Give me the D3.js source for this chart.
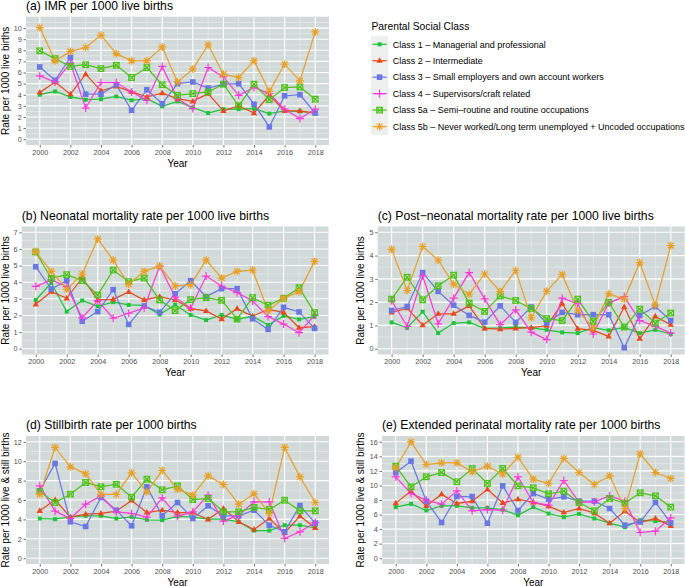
<!DOCTYPE html>
<html>
<head>
<meta charset="utf-8">
<script src="https://cdn.jsdelivr.net/npm/d3@7"></script>
<style>
  body { margin: 0; background: #fff; }
  text { font-family: "Liberation Sans", Arial, Helvetica, sans-serif; }
</style>
</head>
<body>
<svg id="chart" width="685" height="586"></svg>
<script>
// ---- data ----
const years = [2000, 2001, 2002, 2003, 2004, 2005, 2006, 2007, 2008, 2009,
               2010, 2011, 2012, 2013, 2014, 2015, 2016, 2017, 2018];

const classNames = [
  "Class 1 \u2013 Managerial and professional",
  "Class 2 \u2013 Intermediate",
  "Class 3 \u2013 Small employers and own account workers",
  "Class 4 \u2013 Supervisors/craft related",
  "Class 5a \u2013 Semi\u2013routine and routine occupations",
  "Class 5b \u2013 Never worked/Long term unemployed + Uncoded occupations"
];
const classColors = ["#1fc43a", "#e84a1e", "#6a78e6", "#ff3ad8", "#4fc21c", "#e9a12a"];
const classShapes = ["smallsquare", "triangle", "square", "plus", "squarex", "asterisk"];

// one row per class, one value per year
const imr = [
  [4.0, 4.3, 3.8, 3.55, 3.6, 3.85, 3.5, 3.65, 2.95, 3.4, 2.85, 2.35, 2.7, 2.7, 2.75, 2.3, 2.55, 2.5, 2.35],
  [4.2, 5.15, 4.05, 5.85, 4.35, 4.75, 4.25, 3.8, 4.15, 3.65, 3.4, 4.1, 2.55, 3.0, 2.35, 3.95, 2.55, 2.55, 2.35],
  [6.5, 5.3, 7.35, 4.05, 4.05, 4.9, 2.6, 4.45, 3.2, 5.0, 5.15, 4.6, 4.95, 5.0, 3.15, 1.1, 3.9, 4.0, 2.35],
  [5.7, 5.15, 6.85, 2.8, 5.1, 5.1, 4.25, 3.5, 6.55, 3.65, 2.75, 6.45, 5.6, 3.95, 4.65, 4.1, 2.7, 1.85, 2.7],
  [7.95, 7.25, 6.55, 6.7, 6.35, 6.65, 5.55, 6.45, 4.9, 3.95, 4.1, 4.25, 4.95, 3.0, 4.95, 3.55, 4.65, 4.7, 3.6],
  [10.05, 7.05, 7.9, 8.25, 9.35, 7.7, 7.05, 7.05, 8.3, 5.15, 6.3, 8.5, 5.85, 5.55, 7.05, 4.3, 6.75, 5.25, 9.65]
];
const neonatal = [
  [2.93, 3.95, 2.23, 2.9, 2.55, 2.8, 2.63, 2.6, 2.05, 2.65, 2.03, 1.72, 2.03, 1.76, 1.95, 1.42, 1.97, 1.76, 1.93],
  [2.67, 3.43, 3.03, 4.27, 2.93, 2.97, 3.41, 2.93, 3.13, 2.93, 2.41, 2.27, 1.78, 2.41, 1.95, 2.37, 2.19, 1.26, 1.32],
  [4.93, 3.59, 4.09, 1.65, 2.23, 3.55, 1.46, 2.57, 2.19, 3.3, 4.09, 3.13, 3.61, 3.61, 1.8, 1.16, 2.49, 2.21, 1.22],
  [3.75, 4.13, 3.73, 1.85, 2.89, 1.83, 2.13, 2.45, 4.97, 3.1, 2.43, 4.37, 3.77, 3.37, 2.87, 1.93, 1.48, 0.96, 2.01],
  [5.82, 4.23, 4.45, 4.1, 3.23, 4.73, 4.03, 4.25, 2.93, 2.29, 2.95, 3.07, 2.91, 1.78, 3.07, 2.61, 3.03, 3.67, 2.17],
  [5.84, 4.65, 3.57, 4.49, 6.6, 5.33, 3.87, 4.65, 4.97, 3.77, 3.85, 5.33, 4.25, 4.65, 4.73, 2.27, 3.03, 3.43, 5.25]
];
const postNeonatal = [
  [1.13, 0.9, 1.59, 0.67, 1.1, 1.13, 0.87, 0.89, 0.93, 0.89, 0.81, 0.7, 0.67, 0.9, 0.79, 0.91, 0.67, 0.81, 0.63],
  [1.56, 1.74, 1.01, 1.5, 1.5, 1.84, 0.87, 0.84, 0.87, 0.9, 0.99, 1.93, 0.86, 0.79, 0.53, 1.79, 0.43, 1.39, 1.03],
  [1.64, 1.81, 3.27, 2.46, 1.87, 1.43, 1.14, 1.84, 1.13, 1.79, 1.1, 1.56, 1.46, 1.46, 1.46, 0.04, 1.43, 1.81, 1.21],
  [2.06, 0.96, 3.13, 1.07, 2.17, 3.27, 2.14, 1.03, 1.67, 0.71, 0.39, 2.17, 1.93, 0.63, 1.96, 2.24, 1.21, 0.96, 0.67],
  [2.13, 3.07, 2.1, 2.7, 3.16, 1.96, 1.6, 2.27, 2.07, 1.73, 1.29, 1.21, 2.13, 1.17, 1.99, 0.93, 1.7, 1.1, 1.53],
  [4.27, 2.5, 4.39, 3.8, 2.77, 2.34, 3.21, 2.46, 3.36, 1.33, 2.47, 3.19, 1.63, 0.9, 2.36, 2.13, 3.7, 1.87, 4.43]
];
const stillbirth = [
  [4.09, 4.02, 4.26, 4.37, 4.37, 4.09, 4.26, 3.95, 3.92, 4.3, 4.23, 4.02, 4.02, 3.75, 2.85, 2.85, 3.4, 3.4, 3.13],
  [4.88, 6.02, 4.23, 4.54, 4.61, 4.85, 5.95, 4.71, 4.95, 4.71, 4.71, 3.99, 5.12, 3.75, 2.96, 4.09, 2.61, 4.33, 3.13],
  [6.95, 9.77, 3.75, 3.27, 6.26, 4.95, 3.34, 7.36, 4.37, 5.74, 4.09, 5.4, 4.37, 4.37, 4.95, 3.4, 2.72, 5.43, 3.61],
  [7.46, 4.85, 4.09, 5.57, 6.4, 4.78, 4.61, 4.23, 6.22, 4.33, 4.78, 6.5, 3.82, 4.44, 5.81, 5.81, 2.03, 2.72, 3.68],
  [6.84, 5.74, 6.6, 7.81, 7.36, 7.63, 6.29, 8.15, 7.05, 7.46, 6.05, 6.16, 4.78, 4.78, 5.23, 5.02, 5.98, 4.88, 4.88],
  [6.57, 11.42, 9.42, 8.7, 6.57, 6.57, 8.8, 6.84, 9.04, 7.12, 6.5, 8.49, 7.6, 5.57, 6.64, 4.61, 11.42, 8.39, 5.74]
];
const perinatal = [
  [7.02, 7.47, 6.56, 7.2, 7.2, 6.92, 6.92, 6.65, 5.91, 7.02, 6.14, 5.64, 6.1, 5.46, 4.81, 4.26, 5.23, 5.09, 4.91],
  [7.57, 9.22, 7.2, 8.8, 7.52, 7.84, 9.45, 7.61, 8.12, 7.66, 7.15, 6.28, 6.83, 6.19, 4.81, 6.46, 4.91, 5.46, 4.45],
  [11.74, 13.34, 7.84, 4.91, 8.48, 8.48, 4.81, 9.95, 6.56, 8.89, 8.12, 8.44, 7.84, 7.84, 6.83, 4.54, 5.0, 7.66, 4.86],
  [11.19, 8.89, 7.98, 7.43, 9.26, 6.51, 6.69, 6.6, 11.19, 7.66, 7.29, 10.68, 7.66, 7.75, 8.57, 7.84, 3.53, 3.71, 5.55],
  [12.65, 9.81, 11.19, 11.78, 10.5, 12.33, 10.27, 12.33, 9.95, 9.67, 8.85, 9.22, 7.66, 6.51, 8.21, 7.57, 8.99, 8.57, 7.02],
  [12.43, 16.0, 12.88, 13.11, 13.11, 11.88, 12.65, 11.55, 13.89, 10.87, 10.27, 13.71, 11.78, 10.13, 11.33, 6.83, 14.35, 11.78, 10.96]
];

// ---- layout ----
const panels = [
  { title: "(a) IMR per 1000 live births", rates: imr, ylab: "Rate per 1000 live births",
    left: 26, right: 329, top: 16.7, bottom: 145, ydom: [-0.525, 11.025], ymax: 10, ystep: 1, ylabX: 9 },
  { title: "(b) Neonatal mortality rate per 1000 live births", rates: neonatal, ylab: "Rate per 1000 live births",
    left: 21.8, right: 328.5, top: 226.5, bottom: 354.5, ydom: [-0.35, 7.35], ymax: 7, ystep: 1, ylabX: 9 },
  { title: "(c) Post\u2212neonatal mortality rate per 1000 live births", rates: postNeonatal, ylab: "Rate per 1000 live births",
    left: 377.7, right: 684.7, top: 226.5, bottom: 354.5, ydom: [-0.25, 5.25], ymax: 5, ystep: 1, ylabX: 364 },
  { title: "(d) Stillbirth rate per 1000 births", rates: stillbirth, ylab: "Rate per 1000 live & still births",
    left: 26, right: 329, top: 436, bottom: 564, ydom: [-0.6, 12.6], ymax: 12, ystep: 2, ylabX: 9 },
  { title: "(e) Extended perinatal mortality rate per 1000 births", rates: perinatal, ylab: "Rate per 1000 live & still births",
    left: 382, right: 684.5, top: 436, bottom: 564, ydom: [-0.8, 16.8], ymax: 16, ystep: 2, ylabX: 364 }
];

const svg = d3.select("#chart");
const bg = "#d1dad8";
const lw = 1.25;

function drawMarker(g, shape, x, y, color) {
  if (shape == "smallsquare") {
    g.append("rect").attr("x", x - 2).attr("y", y - 2).attr("width", 4).attr("height", 4).attr("fill", color);
  } else if (shape == "square") {
    g.append("rect").attr("x", x - 2.8).attr("y", y - 2.8).attr("width", 5.6).attr("height", 5.6).attr("fill", color);
  } else if (shape == "triangle") {
    g.append("path").attr("d", `M${x},${y - 3.5}L${x + 3.2},${y + 2.1}L${x - 3.2},${y + 2.1}Z`).attr("fill", color);
  } else if (shape == "plus") {
    g.append("path").attr("d", `M${x - 4},${y}H${x + 4}M${x},${y - 4}V${y + 4}`)
      .attr("stroke", color).attr("stroke-width", 1.2);
  } else if (shape == "squarex") {
    g.append("rect").attr("x", x - 2.8).attr("y", y - 2.8).attr("width", 5.6).attr("height", 5.6)
      .attr("fill", "none").attr("stroke", color).attr("stroke-width", 1.2);
    g.append("path").attr("d", `M${x - 2.8},${y - 2.8}L${x + 2.8},${y + 2.8}M${x + 2.8},${y - 2.8}L${x - 2.8},${y + 2.8}`)
      .attr("stroke", color).attr("stroke-width", 1.2);
  } else if (shape == "asterisk") {
    const r = 4, d = 2.9;
    g.append("path").attr("d", `M${x - r},${y}H${x + r}M${x},${y - r}V${y + r}M${x - d},${y - d}L${x + d},${y + d}M${x + d},${y - d}L${x - d},${y + d}`)
      .attr("stroke", color).attr("stroke-width", 1.2);
  }
}

panels.forEach(p => {
  const x = d3.scaleLinear().domain([1999.1, 2018.9]).range([p.left, p.right]);
  const y = d3.scaleLinear().domain(p.ydom).range([p.bottom, p.top]);
  const g = svg.append("g");

  g.append("rect").attr("x", p.left).attr("y", p.top)
    .attr("width", p.right - p.left).attr("height", p.bottom - p.top).attr("fill", bg);

  const majorY = d3.range(0, p.ymax + 0.001, p.ystep);
  const minorY = d3.range(p.ystep / 2, p.ymax + p.ystep / 2 + 0.001, p.ystep).filter(v => v < p.ydom[1]);
  const majorX = d3.range(2000, 2019, 2);
  const minorX = d3.range(2001, 2019, 2);

  g.selectAll(".mny").data(minorY).join("line")
    .attr("x1", p.left).attr("x2", p.right).attr("y1", d => y(d)).attr("y2", d => y(d))
    .attr("stroke", "#e9eeed").attr("stroke-width", 0.6);
  g.selectAll(".mnx").data(minorX).join("line")
    .attr("y1", p.top).attr("y2", p.bottom).attr("x1", d => x(d)).attr("x2", d => x(d))
    .attr("stroke", "#e9eeed").attr("stroke-width", 0.6);
  g.selectAll(".mjy").data(majorY).join("line")
    .attr("x1", p.left).attr("x2", p.right).attr("y1", d => y(d)).attr("y2", d => y(d))
    .attr("stroke", "#fff").attr("stroke-width", 1.1);
  g.selectAll(".mjx").data(majorX).join("line")
    .attr("y1", p.top).attr("y2", p.bottom).attr("x1", d => x(d)).attr("x2", d => x(d))
    .attr("stroke", "#fff").attr("stroke-width", 1.1);

  // axes
  const ya = d3.axisLeft(y).tickValues(majorY).tickSize(2.5).tickPadding(1.8).tickFormat(d3.format("d"));
  const xa = d3.axisBottom(x).tickValues(majorX).tickSize(2.5).tickPadding(2).tickFormat(d3.format("d"));
  const gy = g.append("g").attr("transform", `translate(${p.left},0)`).call(ya);
  const gx = g.append("g").attr("transform", `translate(0,${p.bottom})`).call(xa);
  [gy, gx].forEach(a => {
    a.select(".domain").remove();
    a.selectAll(".tick line").attr("stroke", "#333").attr("stroke-width", 0.7);
    a.selectAll(".tick text").attr("fill", "#4d4d4d").style("font-size", "7.2px")
      .style("font-family", '"Liberation Sans", Arial, sans-serif');
  });

  // series: lines first, then points
  const line = d3.line().x((d, i) => x(years[i])).y(d => y(d));
  p.rates.forEach((vals, c) => {
    g.append("path").datum(vals).attr("d", line).attr("fill", "none")
      .attr("stroke", classColors[c]).attr("stroke-width", lw);
  });
  p.rates.forEach((vals, c) => {
    vals.forEach((v, i) => drawMarker(g, classShapes[c], x(years[i]), y(v), classColors[c]));
  });

  // titles
  g.append("text").attr("x", p.left).attr("y", p.top - 7).style("font-size", "12.2px").attr("fill", "#000").text(p.title);
  g.append("text").attr("x", (p.left + p.right) / 2).attr("y", p.bottom + 21.5).attr("text-anchor", "middle")
    .style("font-size", "10px").text("Year");
  g.append("text").attr("transform", `translate(${p.ylabX},${(p.top + p.bottom) / 2}) rotate(-90)`)
    .attr("text-anchor", "middle").style("font-size", "10px").text(p.ylab);
});

// ---- legend ----
const leg = svg.append("g");
const legX = 371, legY0 = 44.3, legStep = 16.45;
leg.append("text").attr("x", legX + 0.5).attr("y", 29.5).style("font-size", "10.3px").text("Parental Social Class");
leg.append("rect").attr("x", legX).attr("y", legY0 - 8.2).attr("width", 17.2).attr("height", legStep * 6)
  .attr("fill", "#eef0f0");
classNames.forEach((name, c) => {
  const cy = legY0 + c * legStep;
  leg.append("line").attr("x1", legX + 1.5).attr("x2", legX + 15.7).attr("y1", cy).attr("y2", cy)
    .attr("stroke", classColors[c]).attr("stroke-width", lw);
  drawMarker(leg, classShapes[c], legX + 8.6, cy, classColors[c]);
  leg.append("text").attr("x", 392.7).attr("y", cy + 3.2).style("font-size", "9px").text(name);
});
</script>
</body>
</html>
